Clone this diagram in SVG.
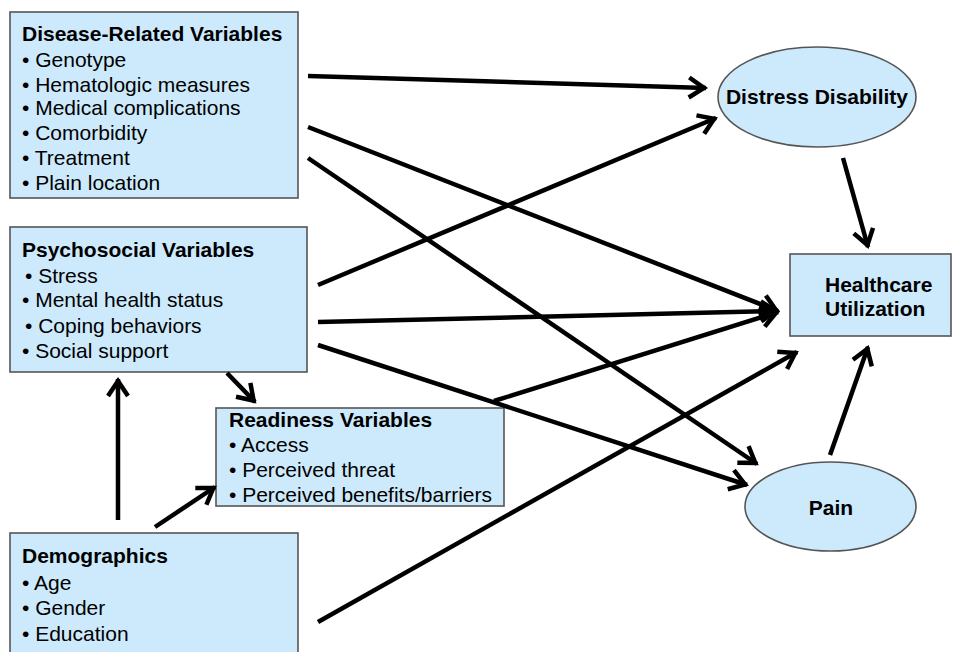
<svg xmlns="http://www.w3.org/2000/svg" width="958" height="652" viewBox="0 0 958 652">
<style>
.box{fill:#cdeafc;stroke:#555;stroke-width:1.6}
.t{font-family:"Liberation Sans",Arial,sans-serif;font-size:21px;fill:#000}
.b{font-weight:bold}
.c{stroke:#000;stroke-width:4.5;fill:none}
</style>
<defs>
<marker id="ah" markerUnits="userSpaceOnUse" markerWidth="34" markerHeight="34" viewBox="-24 -17 34 34" refX="0" refY="0" orient="auto">
<path d="M-17,-10 L-2,0 L-17,10" fill="none" stroke="#000" stroke-width="4.5"/>
</marker>
</defs>
<rect width="958" height="652" fill="#fff"/>
<g id="disease">
<rect class="box" x="10" y="12" width="288" height="186"/>
<text class="t b" x="22" y="41">Disease-Related Variables</text>
<text class="t" x="22" y="67">• Genotype</text>
<text class="t" x="22" y="92">• Hematologic measures</text>
<text class="t" x="22" y="115">• Medical complications</text>
<text class="t" x="22" y="140">• Comorbidity</text>
<text class="t" x="22" y="165">• Treatment</text>
<text class="t" x="22" y="190">• Plain location</text>
</g>
<g id="psychosocial">
<rect class="box" x="10" y="227" width="297" height="145"/>
<text class="t b" x="22" y="257">Psychosocial Variables</text>
<text class="t" x="25" y="283">• Stress</text>
<text class="t" x="22" y="307">• Mental health status</text>
<text class="t" x="25" y="333">• Coping behaviors</text>
<text class="t" x="22" y="358">• Social support</text>
</g>
<g id="readiness">
<rect class="box" x="216" y="408" width="288" height="98"/>
<text class="t b" x="229" y="427">Readiness Variables</text>
<text class="t" x="229" y="452">• Access</text>
<text class="t" x="229" y="477">• Perceived threat</text>
<text class="t" x="229" y="502">• Perceived benefits/barriers</text>
</g>
<g id="demographics">
<rect class="box" x="10" y="533" width="288" height="130"/>
<text class="t b" x="22" y="563">Demographics</text>
<text class="t" x="22" y="590">• Age</text>
<text class="t" x="22" y="615">• Gender</text>
<text class="t" x="22" y="641">• Education</text>
</g>
<g id="distress">
<ellipse class="box" cx="817" cy="97" rx="99" ry="50"/>
<text class="t b" x="817" y="104" text-anchor="middle">Distress Disability</text>
</g>
<g id="healthcare">
<rect class="box" x="790" y="254" width="161" height="82"/>
<text class="t b" x="825" y="292">Healthcare</text>
<text class="t b" x="825" y="316">Utilization</text>
</g>
<g id="pain">
<ellipse class="box" cx="830.5" cy="506.5" rx="85.5" ry="44.5"/>
<text class="t b" x="831" y="515" text-anchor="middle">Pain</text>
</g>
<g id="connectors">
<line class="c" x1="308" y1="76" x2="706" y2="88" marker-end="url(#ah)"/>
<line class="c" x1="308" y1="127" x2="778" y2="311" marker-end="url(#ah)"/>
<line class="c" x1="308" y1="158" x2="757" y2="464" marker-end="url(#ah)"/>
<line class="c" x1="318" y1="285" x2="716" y2="118" marker-end="url(#ah)"/>
<line class="c" x1="318" y1="322" x2="778" y2="311" marker-end="url(#ah)"/>
<line class="c" x1="318" y1="345" x2="747" y2="485" marker-end="url(#ah)"/>
<line class="c" x1="494" y1="401" x2="778" y2="312" marker-end="url(#ah)"/>
<line class="c" x1="318" y1="622" x2="797" y2="352" marker-end="url(#ah)"/>
<line class="c" x1="843" y1="158" x2="868" y2="247" marker-end="url(#ah)"/>
<line class="c" x1="830" y1="455" x2="868" y2="347" marker-end="url(#ah)"/>
<line class="c" x1="118" y1="520" x2="118" y2="379" marker-end="url(#ah)"/>
<line class="c" x1="227" y1="373" x2="255" y2="402" marker-end="url(#ah)"/>
<line class="c" x1="155" y1="527" x2="215" y2="487" marker-end="url(#ah)"/>
</g>
</svg>
